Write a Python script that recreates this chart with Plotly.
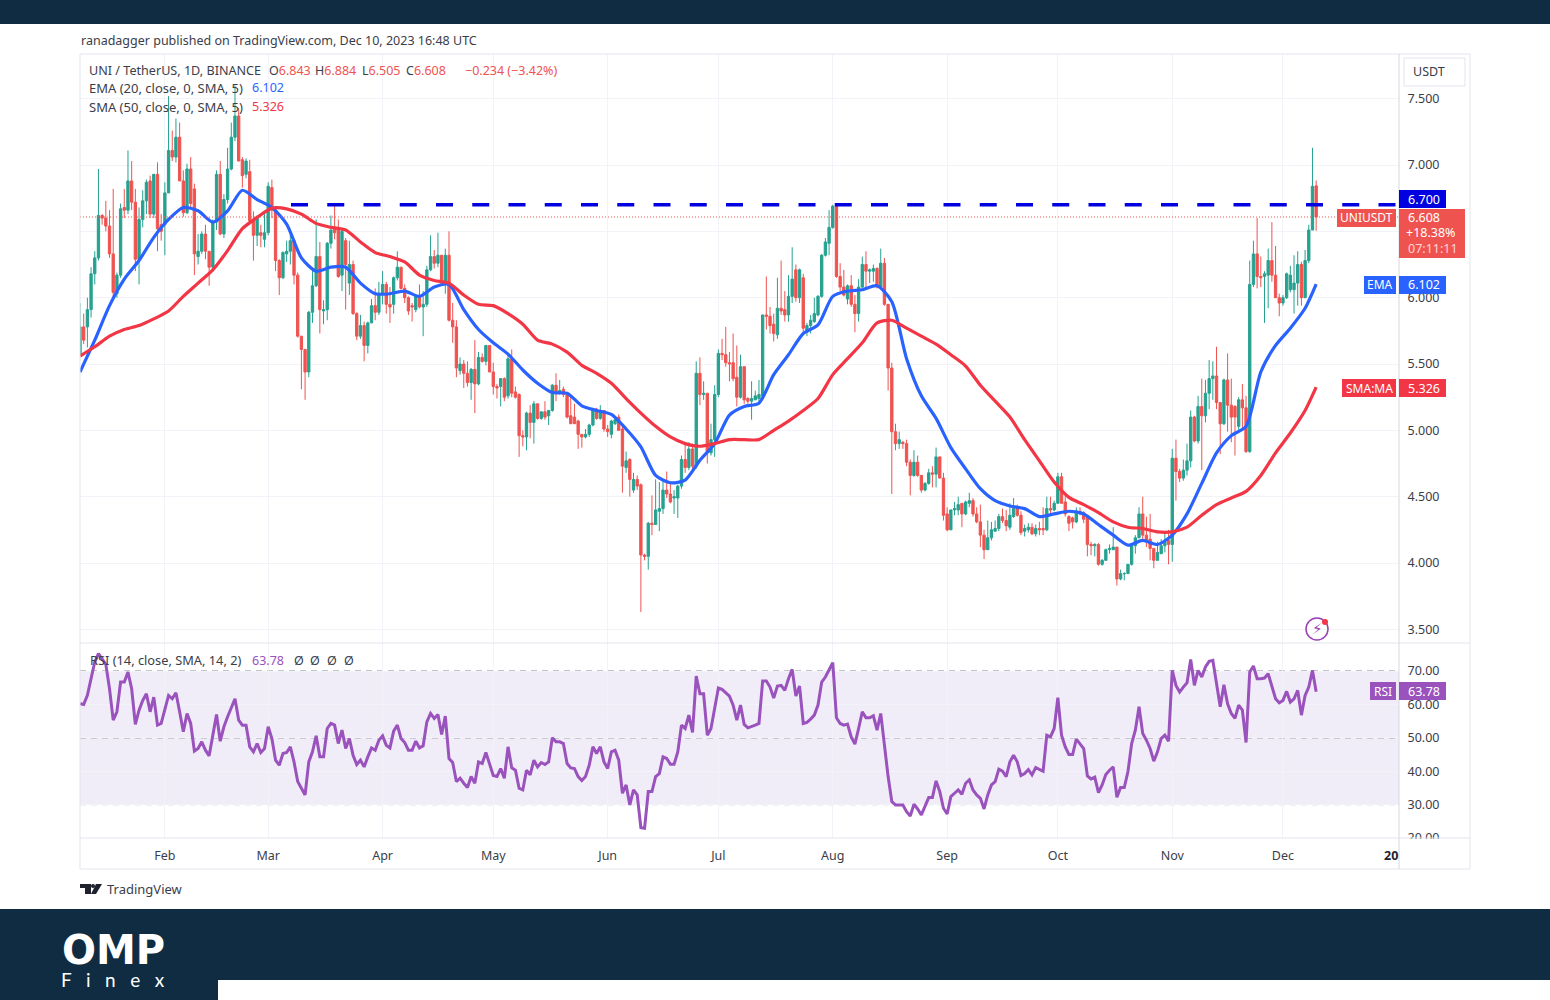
import pandas as pd
import plotly.graph_objects as go

# UNI/USDT daily candles
opens = [
    5.575,5.78,5.78,5.91,6.18,6.30,6.62,6.60,6.54,6.33,
    6.03,6.17,6.68,6.66,6.88,6.72,6.29,6.59,6.73,6.88,
    6.63,6.93,6.55,6.55,6.79,7.11,7.06,7.21,6.88,6.64,
    6.97,6.82,6.31,6.35,6.48,6.35,6.23,6.57,6.93,6.48,
    6.74,6.97,7.21,7.37,7.04,6.93,6.95,6.58,6.47,6.49,
    6.44,6.49,6.83,6.66,6.28,6.15,6.33,6.35,6.43,6.17,
    5.71,5.61,5.44,5.89,6.09,6.31,5.90,5.91,6.41,6.53,
    6.51,6.17,6.43,6.11,6.25,5.88,5.71,5.79,5.64,5.81,
    5.94,5.89,6.03,6.10,5.95,5.95,6.15,6.23,6.07,6.00,
    5.94,5.91,6.01,5.93,5.95,6.21,6.31,6.26,6.32,6.11,
    6.32,5.83,5.78,5.45,5.50,5.43,5.36,5.46,5.35,5.55,
    5.52,5.64,5.44,5.33,5.33,5.39,5.26,5.54,5.29,5.27,
    4.96,4.95,5.13,5.06,5.20,5.09,5.14,5.11,5.15,5.34,
    5.28,5.31,5.27,5.11,5.10,5.07,4.97,4.95,4.97,5.04,
    5.16,5.09,5.15,5.01,4.97,5.05,5.10,5.01,4.72,4.78,
    4.55,4.63,4.59,4.06,4.05,4.30,4.29,4.39,4.41,4.55,
    4.52,4.49,4.49,4.58,4.78,4.72,4.86,4.73,5.43,5.27,
    5.28,4.83,4.93,5.27,5.58,5.57,5.51,5.51,5.40,5.25,
    5.48,5.24,5.22,5.23,5.24,5.26,5.87,5.86,5.80,5.72,
    5.92,5.91,5.87,6.01,6.21,6.00,6.15,5.74,5.79,5.82,
    5.87,6.01,6.32,6.41,6.53,6.69,6.16,6.08,5.99,6.09,
    5.95,5.88,6.08,6.25,6.20,6.20,6.22,6.08,6.26,5.95,
    5.47,4.99,4.90,4.91,4.90,4.76,4.66,4.76,4.66,4.55,
    4.60,4.68,4.67,4.80,4.64,4.37,4.25,4.40,4.40,4.45,
    4.37,4.45,4.47,4.37,4.31,4.21,4.10,4.19,4.24,4.26,
    4.35,4.32,4.27,4.35,4.41,4.36,4.24,4.25,4.27,4.22,
    4.26,4.26,4.25,4.41,4.40,4.45,4.65,4.46,4.35,4.34,
    4.31,4.39,4.38,4.35,4.14,4.13,4.14,3.99,4.02,4.10,
    4.10,4.12,3.88,3.92,3.92,3.99,4.13,4.19,4.37,4.21,
    4.18,4.11,4.02,4.07,4.13,4.17,4.14,4.79,4.69,4.64,
    4.70,4.77,5.10,4.92,5.18,5.11,5.28,5.39,5.41,5.21,
    5.05,5.38,5.19,5.18,5.03,5.23,5.17,4.84,6.10,6.33,
    6.16,6.16,6.17,6.28,6.17,6.00,5.96,6.00,6.06,6.06,
    6.11,6.25,6.00,6.28,6.51,6.843,
]
highs = [
    5.96,5.88,6.00,6.23,6.35,6.97,6.63,6.73,6.66,6.82,
    6.19,6.71,6.82,7.11,7.03,6.82,6.68,6.81,6.89,6.92,
    6.93,7.02,6.63,6.87,7.52,7.26,7.35,7.32,6.96,7.01,
    7.06,6.86,6.48,6.50,6.55,6.35,6.59,6.96,7.03,6.78,
    7.13,7.32,7.60,7.43,7.06,7.05,7.04,6.65,6.62,6.55,
    6.63,6.87,6.89,6.66,6.29,6.35,6.43,6.48,6.44,6.19,
    5.71,5.61,5.90,6.21,6.59,6.42,5.98,6.42,6.62,6.71,
    6.59,6.52,6.45,6.43,6.28,5.89,5.87,5.82,5.82,5.99,
    6.07,6.12,6.20,6.12,6.08,6.16,6.35,6.23,6.10,6.01,
    5.96,6.02,6.10,6.05,6.24,6.47,6.36,6.49,6.32,6.37,
    6.50,5.96,5.83,5.55,5.53,5.52,5.47,5.68,5.59,5.58,
    5.64,5.64,5.51,5.35,5.39,5.40,5.58,5.61,5.33,5.28,
    5.00,5.14,5.19,5.22,5.20,5.14,5.22,5.15,5.35,5.43,
    5.38,5.33,5.29,5.27,5.20,5.08,4.97,5.01,5.05,5.17,
    5.17,5.19,5.15,5.04,5.08,5.10,5.12,5.04,4.84,4.79,
    4.68,4.66,4.60,4.07,4.31,4.51,4.63,4.61,4.63,4.69,
    4.61,4.55,4.59,4.81,4.89,4.91,4.90,5.52,5.55,5.37,
    5.28,5.05,5.34,5.61,5.69,5.78,5.59,5.73,5.64,5.57,
    5.48,5.25,5.37,5.30,5.38,5.87,6.16,5.93,5.88,6.15,
    6.28,6.05,6.17,6.38,6.25,6.22,6.18,5.81,5.87,6.00,
    6.02,6.33,6.45,6.66,6.70,6.70,6.26,6.21,6.10,6.17,
    6.02,6.14,6.31,6.35,6.22,6.25,6.23,6.37,6.30,5.95,
    5.51,5.05,4.99,4.92,4.93,4.78,4.85,4.81,4.66,4.61,
    4.71,4.73,4.87,4.80,4.68,4.42,4.40,4.46,4.50,4.45,
    4.47,4.53,4.49,4.42,4.44,4.25,4.32,4.31,4.32,4.37,
    4.41,4.40,4.45,4.49,4.44,4.39,4.29,4.30,4.30,4.29,
    4.31,4.42,4.50,4.50,4.47,4.68,4.68,4.51,4.36,4.35,
    4.42,4.42,4.39,4.36,4.16,4.15,4.15,4.03,4.11,4.14,
    4.27,4.12,3.95,3.93,3.99,4.13,4.21,4.42,4.50,4.35,
    4.37,4.11,4.16,4.18,4.23,4.25,4.86,4.93,4.71,4.78,
    4.90,5.15,5.11,5.26,5.39,5.38,5.53,5.52,5.63,5.21,
    5.39,5.58,5.39,5.19,5.25,5.35,5.26,6.28,6.43,6.60,
    6.31,6.20,6.37,6.57,6.39,6.03,6.02,6.19,6.24,6.32,
    6.35,6.27,6.36,6.55,7.13,6.884,
]
lows = [
    5.575,5.65,5.625,5.85,6.10,6.28,6.55,6.50,6.30,6.00,
    6.00,6.15,6.60,6.63,6.66,6.20,6.10,6.53,6.63,6.60,
    6.60,6.35,6.43,6.32,6.79,7.03,7.02,6.88,6.61,6.63,
    6.68,6.17,6.25,6.33,6.29,6.09,6.20,6.51,6.47,6.45,
    6.71,6.96,7.18,7.03,6.83,6.90,6.55,6.28,6.39,6.38,
    6.38,6.47,6.60,6.20,6.02,6.14,6.27,6.25,6.10,5.70,
    5.31,5.23,5.40,5.81,6.08,5.73,5.80,5.83,6.37,6.44,
    6.15,6.05,5.91,6.02,5.87,5.68,5.69,5.52,5.58,5.81,
    5.83,5.87,5.95,5.88,5.81,5.88,6.13,6.06,5.96,5.87,
    5.82,5.89,5.92,5.71,5.93,6.20,6.22,6.23,6.10,6.03,
    5.82,5.66,5.40,5.42,5.32,5.33,5.23,5.13,5.34,5.51,
    5.49,5.44,5.27,5.24,5.18,5.22,5.24,5.25,5.24,4.80,
    4.88,4.85,4.94,4.90,5.08,5.08,5.08,5.04,5.14,5.22,
    5.27,5.25,5.09,5.05,5.05,4.86,4.87,4.94,4.95,5.03,
    5.08,5.08,4.99,4.95,4.94,5.04,5.00,4.53,4.68,4.50,
    4.53,4.55,3.63,4.02,3.95,4.21,4.29,4.24,4.37,4.49,
    4.45,4.37,4.34,4.56,4.68,4.70,4.69,4.71,5.19,5.23,
    4.75,4.81,4.80,5.25,5.53,5.48,5.37,5.37,5.18,5.24,
    5.20,5.20,5.08,5.23,5.20,5.24,5.76,5.73,5.67,5.69,
    5.87,5.82,5.82,5.96,5.97,5.96,5.73,5.71,5.73,5.81,
    5.86,6.00,6.31,6.32,6.52,6.15,6.05,6.01,5.95,5.93,
    5.74,5.82,6.07,6.07,6.11,6.12,6.07,6.07,5.94,5.30,
    4.52,4.85,4.86,4.86,4.73,4.51,4.65,4.65,4.53,4.54,
    4.59,4.57,4.57,4.64,4.32,4.24,4.25,4.36,4.36,4.27,
    4.36,4.42,4.35,4.30,4.12,4.03,4.10,4.17,4.24,4.24,
    4.30,4.24,4.25,4.34,4.35,4.21,4.20,4.23,4.21,4.20,
    4.21,4.21,4.24,4.37,4.39,4.45,4.45,4.35,4.24,4.26,
    4.30,4.36,4.30,4.05,4.06,4.05,3.98,3.98,4.02,4.07,
    4.10,3.83,3.87,3.87,3.92,3.98,4.07,4.19,4.18,4.12,
    4.02,3.96,4.02,4.07,4.08,3.99,4.01,4.47,4.61,4.62,
    4.66,4.72,4.91,4.90,4.70,5.06,5.16,5.23,5.16,4.82,
    5.04,4.99,4.91,4.81,4.99,5.00,4.83,4.83,6.08,6.07,
    6.08,5.81,5.92,6.12,6.00,5.86,5.94,5.99,6.04,5.88,
    5.94,5.94,6.00,6.26,6.51,6.505,
]
closes = [
    5.78,5.68,5.91,6.18,6.30,6.62,6.60,6.54,6.33,6.04,
    6.17,6.67,6.66,6.88,6.72,6.29,6.59,6.73,6.87,6.63,
    6.93,6.52,6.50,6.79,7.11,7.06,7.21,6.88,6.64,6.97,
    6.71,6.33,6.35,6.48,6.35,6.23,6.57,6.93,6.48,6.74,
    6.97,7.21,7.37,7.03,6.92,7.03,6.58,6.47,6.60,6.47,
    6.49,6.84,6.66,6.28,6.15,6.34,6.35,6.43,6.17,5.71,
    5.61,5.44,5.89,6.09,6.31,5.91,5.91,6.41,6.51,6.49,
    6.16,6.50,6.25,6.25,5.88,5.71,5.79,5.64,5.81,5.94,
    5.89,6.03,6.10,5.95,5.93,6.15,6.23,6.07,6.00,5.90,
    5.93,6.01,5.93,5.95,6.21,6.31,6.26,6.32,6.11,6.32,
    5.83,5.78,5.47,5.50,5.43,5.36,5.46,5.35,5.55,5.52,
    5.64,5.44,5.33,5.32,5.39,5.25,5.54,5.28,5.25,4.96,
    4.95,5.13,5.06,5.20,5.09,5.14,5.10,5.15,5.34,5.29,
    5.30,5.27,5.10,5.05,5.05,4.97,4.95,4.97,5.04,5.16,
    5.09,5.15,5.01,4.99,5.07,5.08,5.00,4.73,4.77,4.63,
    4.63,4.58,4.06,4.05,4.30,4.29,4.40,4.41,4.55,4.52,
    4.46,4.50,4.58,4.78,4.72,4.86,4.73,5.43,5.27,5.28,
    4.83,4.93,5.27,5.58,5.57,5.51,5.50,5.39,5.25,5.48,
    5.23,5.22,5.24,5.26,5.27,5.87,5.86,5.79,5.73,5.92,
    5.90,5.87,6.01,6.14,6.00,6.21,5.77,5.79,5.83,5.88,
    6.01,6.32,6.42,6.53,6.69,6.16,6.08,6.02,6.09,5.95,
    5.88,6.08,6.25,6.20,6.21,6.22,6.08,6.26,5.95,5.47,
    4.99,4.90,4.93,4.90,4.76,4.66,4.76,4.66,4.55,4.60,
    4.68,4.67,4.80,4.64,4.36,4.25,4.40,4.41,4.44,4.37,
    4.46,4.47,4.37,4.31,4.21,4.10,4.19,4.25,4.26,4.35,
    4.32,4.28,4.36,4.41,4.36,4.23,4.26,4.27,4.22,4.26,
    4.25,4.25,4.41,4.40,4.45,4.65,4.45,4.37,4.30,4.31,
    4.39,4.38,4.33,4.14,4.13,4.14,3.99,4.02,4.10,4.11,
    4.12,3.88,3.92,3.92,3.99,4.13,4.19,4.37,4.21,4.17,
    4.11,4.02,4.08,4.13,4.16,4.14,4.79,4.69,4.64,4.70,
    4.77,5.10,4.92,5.18,5.11,5.28,5.39,5.41,5.21,5.05,
    5.38,5.19,5.10,5.10,5.23,5.17,4.84,6.10,6.33,6.16,
    6.15,6.18,6.28,6.17,6.00,5.96,6.00,6.18,6.17,6.11,
    6.25,6.00,6.28,6.51,6.84,6.608,
]

# moving averages, read every fourth day plus the last one
ema20 = [
    5.44,5.68,5.94,6.14,6.28,6.455,6.59,6.68,6.655,6.57,6.655,6.81,6.74,6.68,6.555,6.30,
    6.20,6.23,6.23,6.11,6.03,6.03,6.05,6.01,6.08,6.10,5.91,5.76,5.66,5.575,5.455,5.355,
    5.285,5.28,5.185,5.15,5.12,5.01,4.875,4.66,4.605,4.625,4.775,4.90,5.115,5.18,5.205,5.42,
    5.57,5.73,5.795,6.01,6.05,6.06,6.09,5.97,5.54,5.26,5.09,4.87,4.71,4.56,4.47,4.43,
    4.41,4.35,4.37,4.39,4.37,4.29,4.21,4.135,4.17,4.14,4.21,4.37,4.60,4.83,4.96,5.03,
    5.44,5.64,5.77,5.92,6.102,
]
sma50 = [
    5.56,5.63,5.71,5.76,5.79,5.84,5.90,6.01,6.11,6.21,6.355,6.52,6.605,6.675,6.67,6.63,
    6.56,6.53,6.51,6.42,6.34,6.31,6.27,6.17,6.13,6.11,6.02,5.95,5.94,5.88,5.80,5.68,
    5.65,5.59,5.49,5.43,5.355,5.24,5.13,5.03,4.95,4.90,4.88,4.90,4.93,4.93,4.93,5.00,
    5.07,5.15,5.24,5.42,5.54,5.66,5.81,5.83,5.77,5.71,5.65,5.57,5.485,5.34,5.22,5.10,
    4.93,4.77,4.61,4.495,4.44,4.38,4.31,4.27,4.26,4.235,4.235,4.27,4.36,4.44,4.49,4.54,
    4.66,4.83,4.98,5.15,5.326,
]
ma_days = list(range(0, 336, 4)) + [335]

rsi = [
    60.2,60,62.7,68.2,72.7,75.2,73.7,72,64.7,55.3,57.8,66.7,66.7,69.7,64.7,54,58.3,61.2,63.2,57.8,
    62.2,53.8,54.3,58.8,62.7,61.7,63.5,57.8,51.8,57.3,54.3,46,46.8,48.8,46.3,44.6,50.8,57,49,53.3,
    56.3,59.3,61.7,55.3,53.8,53.8,47.3,45.8,48.3,45.6,46.8,53.3,49.8,43.3,41.8,45.3,45.6,47.3,42.8,36.9,
    34.9,32.9,42.8,45.8,50.6,44.3,44.3,52.8,54.3,53.8,48.3,52.3,46.8,49.8,44.8,42,43.3,41.3,44.3,47,
    46.3,49.3,50.6,47.8,47,52,53.8,49.8,48.6,46.3,46.3,49,47,47.6,54.8,57.3,55.8,57,51,56.5,
    43.8,42.6,36.9,37.9,36.4,35.1,38.4,36.4,42.8,42.3,45.6,41.8,38.7,38.4,40.8,37.9,47.3,41,40.3,34.9,
    34.4,40.3,38.9,43.3,41.3,42.6,42,42.8,50,48.8,48.8,48.3,42.3,41,40.8,38.4,37.2,38.4,41.8,47.3,
    45.3,47.3,42.8,40.8,45.8,46.3,43.3,33.4,35.9,29.9,34.4,32.9,23.1,22.9,33.9,33.9,38.4,39.3,44.3,43.8,
    42.1,42.1,45.8,53.8,52.8,56.8,51.6,68.5,63.2,63.2,50.8,52.8,58.8,64.9,64.5,63.4,62.5,59.8,55.3,59.8,
    54,53,53.3,53.8,54.3,67,67,65.2,61.9,65.5,65.7,64.2,67.7,70.5,62.5,65.5,54.3,54.6,55.6,56.8,
    59.8,66.7,68.2,70.2,72.5,56,54.3,53.8,54.1,50.3,48.1,52.8,57.8,56,56,56.6,52.3,57.3,47.8,38.4,
    30.9,29.9,29.9,29.9,27.9,26.6,30.1,28.7,26.9,29.4,32.1,32.1,37.1,33.9,28.9,27.2,32.4,33.4,34.4,33.1,
    36.4,37.4,34.4,32.9,31.9,28.7,32.9,35.9,36.9,40.6,40,38.4,42.8,44.8,42.8,38.7,39.3,40.5,38.9,41.1,
    40.5,40,50.8,50.3,52.8,62,50.8,47.3,45,45,49.6,48.3,46.8,38.6,37.7,38.2,33.6,35.9,39,40.3,
    41.3,32.2,35.1,35.1,39.9,48.3,52.3,59.3,51.3,49.3,46.8,43,45.8,49.8,50.8,49,70.2,65.7,63.7,65.2,
    66.5,73.5,65.7,70.2,68.2,71.2,72.9,73.2,66.2,59.3,65.9,60.2,57.3,55.8,59.8,58.3,48.6,69.7,71.5,67.7,
    67.7,67.9,69.2,65.2,61.7,60.5,61.2,63.9,60.7,61.7,64.2,56.8,62.7,65.2,70.2,63.78,
]

month_ticks = ["2023-02-01", "2023-03-01", "2023-04-01", "2023-05-01", "2023-06-01", "2023-07-01",
               "2023-08-01", "2023-09-01", "2023-10-01", "2023-11-01", "2023-12-01"]
month_labels = ["Feb", "Mar", "Apr", "May", "Jun", "Jul", "Aug", "Sep", "Oct", "Nov", "Dec"]
price_ticks = [3.5, 4.0, 4.5, 5.0, 5.5, 6.0, 6.5, 7.0, 7.5]
price_labels = ["3.500", "4.000", "4.500", "5.000", "5.500", "6.000", "", "7.000", "7.500"]
rsi_ticks = [20, 30, 40, 50, 60, 70]
rsi_labels = ["20.00", "30.00", "40.00", "50.00", "60.00", "70.00"]

resistance = 6.7
last_price = 6.608

dates = pd.date_range("2023-01-09", periods=len(closes), freq="D")
ma_dates = [dates[i] for i in ma_days]

W, H = 1550, 1000
FONT = "Noto Sans"
NAVY = "#102c42"
UP = "#26a190"
DOWN = "#ef5350"
BLUE = "#2962ff"
RED = "#f23645"
PURPLE = "#9a52bd"
TEXT = "#3a3e4a"
GRID = "#f1f3f8"
FRAME = "#e3e5ec"


def fx(px):
    return px / W


def fy(py):
    return 1 - py / H


fig = go.Figure()

fig.add_trace(go.Candlestick(
    x=dates, open=opens, high=highs, low=lows, close=closes,
    increasing=dict(line=dict(color=UP, width=1), fillcolor=UP),
    decreasing=dict(line=dict(color=DOWN, width=1), fillcolor=DOWN),
    whiskerwidth=0, xaxis="x", yaxis="y", showlegend=False,
))
fig.add_trace(go.Scatter(x=ma_dates, y=ema20, mode="lines",
                         line=dict(color=BLUE, width=3.2, shape="spline", smoothing=0.7),
                         xaxis="x", yaxis="y", showlegend=False))
fig.add_trace(go.Scatter(x=ma_dates, y=sma50, mode="lines",
                         line=dict(color=RED, width=3.2, shape="spline", smoothing=0.7),
                         xaxis="x", yaxis="y", showlegend=False))
fig.add_trace(go.Scatter(x=dates, y=rsi, mode="lines", line=dict(color=PURPLE, width=3),
                         xaxis="x2", yaxis="y2", showlegend=False))

shapes = []


def rect(x0, y0, x1, y1, color, line=None, layer="above"):
    shapes.append(dict(type="rect", xref="paper", yref="paper", layer=layer,
                       x0=fx(x0), x1=fx(x1), y0=fy(y0), y1=fy(y1), fillcolor=color,
                       line=dict(color=line or color, width=1 if line else 0)))


def hline(x0, x1, y, color=FRAME):
    shapes.append(dict(type="line", xref="paper", yref="paper", layer="above",
                       x0=fx(x0), x1=fx(x1), y0=fy(y), y1=fy(y), line=dict(color=color, width=1)))


def vline(x, y0, y1, color=FRAME):
    shapes.append(dict(type="line", xref="paper", yref="paper", layer="above",
                       x0=fx(x), x1=fx(x), y0=fy(y0), y1=fy(y1), line=dict(color=color, width=1)))


# rsi band and guide lines
shapes.append(dict(type="rect", xref="paper", yref="y2", layer="below", x0=fx(80), x1=fx(1399),
                   y0=30, y1=70, fillcolor="rgba(126,87,194,0.11)", line=dict(width=0)))
for level in [30, 50, 70]:
    shapes.append(dict(type="line", xref="paper", yref="y2", layer="between", x0=fx(80), x1=fx(1399),
                       y0=level, y1=level, line=dict(color="#7d7a88", width=1, dash="6px,5px")))

# last price and the drawn resistance line
shapes.append(dict(type="line", xref="paper", yref="y", layer="above", x0=fx(80), x1=fx(1399),
                   y0=last_price, y1=last_price, line=dict(color="#ef5350", width=1, dash="1px,2px")))
shapes.append(dict(type="line", xref="paper", yref="y", layer="above", x0=fx(291), x1=fx(1399),
                   y0=resistance, y1=resistance, line=dict(color="#0000e0", width=3.5, dash="17px,19.25px")))

# white strip that cuts the lowest rsi label, then the frame of the chart
rect(1400, 839, 1469, 868, "#ffffff")
hline(80, 1470, 54)
hline(80, 1470, 643)
hline(80, 1470, 838)
hline(80, 1470, 869)
vline(80, 54, 869)
vline(1470, 54, 869)
vline(1399, 54, 869, "#d6d8e0")

# bands of the page
rect(0, 0, W, 24, NAVY)
rect(0, 909, W, H, NAVY)
rect(218, 980, W, H, "#ffffff")

# price scale labels
rect(1399, 190, 1446, 208, "#0000e0")
rect(1399, 209, 1465, 258, DOWN)
rect(1337, 209, 1396, 227, DOWN)
rect(1364, 276, 1396, 294, BLUE)
rect(1399, 276, 1446, 294, BLUE)
rect(1342, 379, 1396, 397, RED)
rect(1399, 379, 1446, 397, RED)
rect(1370, 682, 1396, 700, PURPLE)
rect(1399, 682, 1446, 700, PURPLE)
rect(1404, 58, 1465, 86, "#ffffff", FRAME)

# tradingview mark
rect(80, 884, 91, 888, "#1e222d")
rect(85, 888, 91, 894, "#1e222d")
shapes.append(dict(type="circle", xref="paper", yref="paper", layer="above", x0=fx(91), x1=fx(95),
                   y0=fy(888), y1=fy(884), fillcolor="#1e222d", line=dict(width=0)))
shapes.append(dict(type="path", xref="paper", yref="paper", layer="above",
                   path=f"M {fx(96)} {fy(884)} L {fx(102)} {fy(884)} L {fx(96)} {fy(894)} L {fx(91)} {fy(894)} Z",
                   fillcolor="#1e222d", line=dict(width=0)))

# the small replay icon near the bottom of the main pane
shapes.append(dict(type="circle", xref="paper", yref="paper", layer="above", x0=fx(1306), x1=fx(1328),
                   y0=fy(640), y1=fy(618), fillcolor="rgba(255,255,255,0)",
                   line=dict(color="#9a3fb5", width=1.5)))
shapes.append(dict(type="circle", xref="paper", yref="paper", layer="above", x0=fx(1322), x1=fx(1328),
                   y0=fy(625), y1=fy(619), fillcolor="#f23645", line=dict(width=0)))

annotations = []


def label(x, y, text, size=12, color=TEXT, anchor="left", family=FONT):
    annotations.append(dict(xref="paper", yref="paper", x=fx(x), y=fy(y), text=text, showarrow=False,
                            xanchor=anchor, yanchor="middle", align=anchor, borderpad=0,
                            font=dict(family=family, size=size, color=color)))


red_txt = '<span style="color:#ef5350">%s</span>'
label(80, 40, "ranadagger published on TradingView.com, Dec 10, 2023 16:48 UTC", 12.5)
label(88, 70, "UNI / TetherUS, 1D, BINANCE", 12.6)
label(268, 70, "O" + red_txt % "6.843", 12.5)
label(314, 70, "H" + red_txt % "6.884", 12.5)
label(361, 70, "L" + red_txt % "6.505", 12.5)
label(405, 70, "C" + red_txt % "6.608", 12.5)
label(464, 70, red_txt % "−0.234 (−3.42%)", 12.5)
label(88, 88, "EMA (20, close, 0, SMA, 5)", 13)
label(251, 88, "6.102", 12.5, BLUE)
label(88, 107, "SMA (50, close, 0, SMA, 5)", 13)
label(251, 107, "5.326", 12.5, RED)
label(89, 660, "RSI (14, close, SMA, 14, 2)", 12.8)
label(251, 660, "63.78", 12.5, PURPLE)
label(293, 660, "Ø", 12.5)
label(309, 660, "Ø", 12.5)
label(326, 660, "Ø", 12.5)
label(343, 660, "Ø", 12.5)
label(1429, 72, "USDT", 12.5, anchor="center")
label(1424, 199, "6.700", 12.5, "#ffffff", "center")
label(1424, 218, "6.608", 12.5, "#ffffff", "center")
label(1431, 233, "+18.38%", 12.5, "#ffffff", "center")
label(1433, 248, "07:11:11", 12.5, "#ffd5d3", "center")
label(1366, 218, "UNIUSDT", 12, "#ffffff", "center")
label(1380, 285, "EMA", 12, "#ffffff", "center")
label(1424, 285, "6.102", 12.5, "#ffffff", "center")
label(1369, 388, "SMA:MA", 12, "#ffffff", "center")
label(1424, 388, "5.326", 12.5, "#ffffff", "center")
label(1383, 691, "RSI", 12, "#ffffff", "center")
label(1424, 691, "63.78", 12.5, "#ffffff", "center")
label(1391, 855, "<b>20</b>", 12.5, "#1e222d", "center")
label(106, 889, "TradingView", 13, "#3a3e4a")
label(1317, 629, "⚡", 15, "#9a3fb5", "center", "DejaVu Sans")
label(113, 950, "<b>OMP</b>", 40, "#ffffff", "center", "DejaVu Sans")
label(113, 979, "F   i   n   e   x", 19, "#ffffff", "center", "Lato")

fig.update_layout(
    width=W, height=H, margin=dict(l=0, r=0, t=0, b=0, pad=0, autoexpand=False), autosize=False,
    paper_bgcolor="#ffffff", plot_bgcolor="#ffffff",
    font=dict(family=FONT, size=12.5, color=TEXT),
    shapes=shapes, annotations=annotations, showlegend=False, boxgap=0.1,
    xaxis=dict(domain=[fx(80), fx(1399)], range=["2023-01-09", "2024-01-01 10:48"], anchor="y",
               rangeslider=dict(visible=False), showticklabels=False, tickvals=month_ticks,
               showgrid=True, gridcolor=GRID, zeroline=False, ticks=""),
    xaxis2=dict(domain=[fx(80), fx(1399)], matches="x", anchor="y2",
                tickvals=month_ticks, ticktext=month_labels, showgrid=True, gridcolor=GRID,
                ticks="outside", ticklen=6, tickcolor="rgba(0,0,0,0)", zeroline=False,
                tickfont=dict(family=FONT, size=12.5, color=TEXT)),
    yaxis=dict(domain=[fy(643), fy(54)], range=[3.397, 7.837], side="right", anchor="x",
               tickvals=price_ticks, ticktext=price_labels, showgrid=True, gridcolor=GRID,
               zeroline=False, ticks="outside", ticklen=5, tickcolor="rgba(0,0,0,0)",
               tickfont=dict(family=FONT, size=12.5, color=TEXT)),
    yaxis2=dict(domain=[fy(838), fy(643)], range=[20, 78.4], side="right", anchor="x2",
                tickvals=rsi_ticks, ticktext=rsi_labels, showgrid=True, gridcolor=GRID,
                zeroline=False, ticks="outside", ticklen=5, tickcolor="rgba(0,0,0,0)",
                tickfont=dict(family=FONT, size=12.5, color=TEXT)),
)

fig.write_html("out.html", post_script="document.body.style.margin='0';",
               default_width="1550px", default_height="1000px",
               config=dict(displayModeBar=False, responsive=False))
